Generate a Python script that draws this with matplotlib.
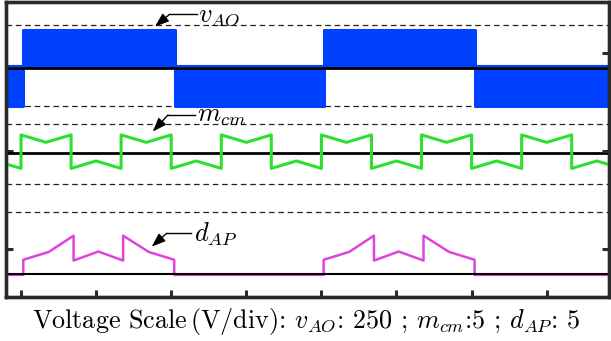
import numpy as np
import matplotlib
matplotlib.use("Agg")
import matplotlib.pyplot as plt

plt.rcParams['mathtext.fontset'] = 'cm'

# time axis in tick units (one tick = one unit)
vao_t = [-0.2, 0.03, 2.05, 4.03, 6.05, 7.83]
vao_v = [-96, 96, -96, 96, -96, -96]      # V, step post

mcm_t = [-0.333, 0.0, 0.0, 0.333, 0.667, 0.667, 1.0, 1.333, 1.333, 1.667,
         2.0, 2.0, 2.333, 2.667, 2.667, 3.0, 3.333, 3.333, 3.667, 4.0,
         4.0, 4.333, 4.667, 4.667, 5.0, 5.333, 5.333, 5.667, 6.0, 6.0,
         6.333, 6.667, 6.667, 7.0, 7.333, 7.333, 7.667, 8.0]
mcm_v = [-0.39, -0.77, 0.94, 0.56, 0.94, -0.77, -0.39, -0.77, 0.94, 0.56,
         0.94, -0.77, -0.39, -0.77, 0.94, 0.56, 0.94, -0.77, -0.39, -0.77,
         0.94, 0.56, 0.94, -0.77, -0.39, -0.77, 0.94, 0.56, 0.94, -0.77,
         -0.39, -0.77, 0.94, 0.56, 0.94, -0.77, -0.39, -0.77]

dap_t = [-0.2, 0.03, 0.03, 0.37, 0.70, 0.70, 1.03, 1.36, 1.36, 1.70,
         2.04, 2.04, 4.03, 4.03, 4.37, 4.70, 4.70, 5.03, 5.36, 5.36,
         5.70, 6.04, 6.04, 7.83]
dap_v = [0, 0, 0.77, 1.17, 2.0, 0.73, 1.19, 0.73, 2.0, 1.17,
         0.77, 0, 0, 0.77, 1.17, 2.0, 0.73, 1.19, 0.73, 2.0,
         1.17, 0.77, 0, 0]

# scales (per div) and trace offsets (div)
scale_vao, scale_mcm, scale_dap = 250, 5, 5
off_vao, off_mcm, off_dap = 1.847, 0.976, -0.258
dash_levels = [2.286, 1.459, 1.276, 0.663, 0.374]

blue = '#0040ff'
green = '#2ee02e'
magenta = '#dd44dd'
frame = '#2a2a2a'

fig = plt.figure(figsize=(6.11, 3.41), dpi=100)
ax = fig.add_axes([6/611, 44/341, 603/611, 295/341])
ax.set_xlim(-0.2, 7.83)
ax.set_ylim(-0.49, 2.52)

for lv in dash_levels:
    ax.axhline(lv, color='#222222', lw=0.9, dashes=(4.5, 3), zorder=1)

# v_AO
vt = np.array(vao_t)
vv = np.array(vao_v) / scale_vao + off_vao
ax.fill_between(vt, off_vao, vv, step='post', color=blue, lw=0, zorder=2)
ax.step(vt, vv, where='post', color=blue, lw=2.2, zorder=2)
ax.axhline(off_vao + 0.018, color=blue, lw=1.5, zorder=2)
ax.axhline(off_vao, color='black', lw=2.0, zorder=3)

# m_cm
ax.axhline(off_mcm, color='black', lw=2.0, zorder=3)
ax.plot(mcm_t, np.array(mcm_v) / scale_mcm + off_mcm, color=green, lw=2.2, zorder=4)

# d_AP
ax.plot(dap_t, np.array(dap_v) / scale_dap + off_dap - 0.006, color=magenta, lw=1.8, zorder=3)
ax.axhline(off_dap, color='black', lw=1.5, zorder=4)

# labels with bent arrows
labels = [(r'$v_{AO}$', (2.36, 2.39), (2.34, 2.395), (1.98, 2.395), (1.784, 2.27)),
          (r'$m_{cm}$', (2.34, 1.367), (2.32, 1.367), (1.957, 1.367), (1.754, 1.197)),
          (r'$d_{AP}$', (2.31, 0.15), (2.27, 0.16), (1.94, 0.16), (1.74, 0.023))]
for txt, tpos, start, corner, tip in labels:
    ax.text(tpos[0], tpos[1], txt, fontsize=19, ha='left', va='center', zorder=5)
    ax.plot([start[0], corner[0]], [start[1], corner[1]], color='black', lw=1.0, zorder=5)
    ax.annotate('', xy=tip, xytext=corner,
                arrowprops=dict(arrowstyle='-|>,head_length=0.6,head_width=0.22',
                                color='black', lw=1.0, shrinkA=0, shrinkB=0,
                                mutation_scale=14), zorder=5)

ax.set_xticks(range(8))
ax.set_yticks([0, 1])
ax.tick_params(direction='in', length=5, width=2.2, color=frame,
               labelbottom=False, labelleft=False)
ax2 = ax.twinx()
ax2.set_ylim(ax.get_ylim())
ax2.set_yticks([0, 1, 2])
ax2.tick_params(direction='in', length=5, width=2.2, color=frame, labelright=False)
for a in (ax, ax2):
    for s in a.spines.values():
        s.set_color(frame)
        s.set_linewidth(2.4)

fig.text(0.5, 0.056, r'Voltage Scale$\,$(V/div): $v_{AO}$: 250 ; $m_{cm}$:5 ; $d_{AP}$: 5',
         family='cmr10', fontsize=18.8, ha='center', va='center')

fig.savefig('out.png', dpi=100)
